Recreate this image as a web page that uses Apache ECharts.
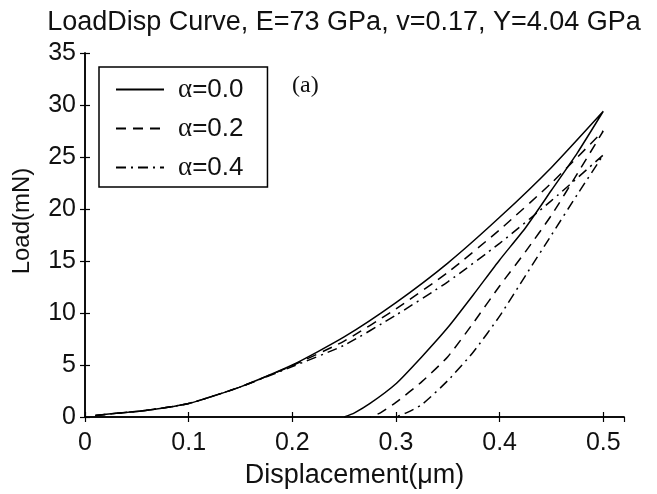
<!DOCTYPE html>
<html>
<head>
<meta charset="utf-8">
<script src="https://cdn.jsdelivr.net/npm/echarts@6/dist/echarts.min.js"></script>
<style>html,body{margin:0;padding:0;background:#fff}#c{width:657px;height:494px}</style>
</head>
<body>
<div id="c"></div>
<script>
// ---- data ----
const titleText = 'LoadDisp Curve, E=73 GPa, v=0.17, Y=4.04 GPa';
const xName = 'Displacement(μm)';
const yName = 'Load(mN)';
const seriesNames = ['α=0.0', 'α=0.2', 'α=0.4'];
const xTicks = [0, 0.1, 0.2, 0.3, 0.4, 0.5];
const yTicks = [0, 5, 10, 15, 20, 25, 30, 35];

// loading branch (shared displacement grid, µm)
const loadDisp = [0.01, 0.03, 0.06, 0.1, 0.15, 0.2, 0.25, 0.3, 0.35, 0.4, 0.45, 0.5];
const a00Load  = [0.15, 0.35, 0.65, 1.3, 2.9, 5.0, 7.7, 11.0, 14.8, 19.2, 24.0, 29.4];
const a02Load  = [0.15, 0.35, 0.65, 1.3, 2.9, 4.95, 7.3, 10.4, 13.9, 18.0, 22.5, 27.5];
const a04Load  = [0.15, 0.35, 0.65, 1.3, 2.9, 4.85, 6.9, 9.8, 13.0, 16.7, 20.8, 25.2];

// unloading branches
const a00UnDisp = [0.5, 0.475, 0.45, 0.425, 0.4, 0.375, 0.35, 0.325, 0.3, 0.275, 0.26, 0.25];
const a00Unload = [29.4, 25.4, 21.8, 18.2, 15.1, 11.8, 8.6, 5.8, 3.2, 1.3, 0.4, 0];
const a02UnDisp = [0.5, 0.475, 0.45, 0.425, 0.4, 0.375, 0.35, 0.325, 0.3, 0.285, 0.275];
const a02Unload = [27.5, 23.4, 19.4, 15.9, 12.6, 9.1, 5.8, 3.4, 1.4, 0.4, 0];
const a04UnDisp = [0.5, 0.475, 0.45, 0.425, 0.4, 0.375, 0.35, 0.325, 0.31, 0.3];
const a04Unload = [25.2, 21.4, 17.5, 13.6, 9.7, 6.3, 3.5, 1.2, 0.4, 0];

function pairs(xs, ys) { return xs.map((x, i) => [x, ys[i]]); }
const curves = [
  pairs(loadDisp, a00Load).concat(pairs(a00UnDisp, a00Unload)),
  pairs(loadDisp, a02Load).concat(pairs(a02UnDisp, a02Unload)),
  pairs(loadDisp, a04Load).concat(pairs(a04UnDisp, a04Unload))
];
const dashTypes = ['solid', [10, 7], [10, 5, 2, 5]];

const FONT = '"Liberation Sans", Arial, sans-serif';
const SERIF = '"Liberation Serif", "Times New Roman", serif';
const chart = echarts.init(document.getElementById('c'), null, {renderer: 'canvas'});
const axisCommon = {
  axisLine: {show: true, lineStyle: {color: '#000', width: 1.5}},
  axisTick: {show: true, inside: true, length: 5, lineStyle: {color: '#000', width: 1.2}},
  splitLine: {show: false}
};
chart.setOption({
  backgroundColor: '#fff',
  animation: false,
  title: {
    text: titleText, left: 339, textAlign: 'center', top: 4,
    textStyle: {fontFamily: FONT, fontSize: 27, fontWeight: 'normal', color: '#111'}
  },
  grid: {left: 85, top: 53, right: 33, bottom: 74},
  legend: {
    left: 99, top: 67, orient: 'vertical',
    data: seriesNames,
    itemWidth: 48, itemHeight: 14, itemGap: 12,
    padding: [9, 24, 6, 16],
    borderColor: '#000', borderWidth: 1.5, backgroundColor: '#fff',
    itemStyle: {opacity: 0},
    formatter: n => '{a|α}{b|' + n.slice(1) + '}',
    textStyle: {
      color: '#111',
      rich: {
        a: {fontFamily: SERIF, fontSize: 27, padding: [0, 0, 0, 9], color: '#111'},
        b: {fontFamily: FONT, fontSize: 26, color: '#111'}
      }
    }
  },
  graphic: [
    {
      type: 'text', left: 292, top: 74,
      style: {text: '(a)', font: '24px ' + SERIF, fill: '#111'}
    },
    {
      type: 'text', x: 22, y: 221, rotation: Math.PI / 2,
      style: {text: yName, font: '24px ' + FONT, fill: '#111', align: 'center', verticalAlign: 'middle'}
    }
  ],
  xAxis: [
    Object.assign({}, axisCommon, {
      type: 'value', min: 0, max: 0.52, interval: 0.1, position: 'bottom',
      name: xName, nameLocation: 'middle', nameGap: 45,
      nameTextStyle: {fontFamily: FONT, fontSize: 27, color: '#111'},
      axisLabel: {fontFamily: FONT, fontSize: 25, color: '#111', margin: 14, showMaxLabel: false,
                  formatter: v => (xTicks.includes(+v.toFixed(2)) ? String(+v.toFixed(2)) : '')}
    }),
    Object.assign({}, axisCommon, {
      type: 'value', min: 0, max: 0.52, interval: 0.1, position: 'top',
      axisLabel: {show: false}
    })
  ],
  yAxis: [
    Object.assign({}, axisCommon, {
      type: 'value', min: 0, max: 35, interval: 5, position: 'left',
      axisLabel: {fontFamily: FONT, fontSize: 25, color: '#111', margin: 9,
                  formatter: v => (yTicks.includes(v) ? String(v) : '')}
    }),
    Object.assign({}, axisCommon, {
      type: 'value', min: 0, max: 35, interval: 5, position: 'right',
      axisLabel: {show: false}
    })
  ],
  series: curves.map((d, i) => ({
    name: seriesNames[i], type: 'line', data: d, xAxisIndex: 0, yAxisIndex: 0,
    symbol: 'none', smooth: 0.2,
    lineStyle: {color: '#000', width: 1.5, type: dashTypes[i]},
    itemStyle: {color: '#000'}
  }))
});
</script>
</body>
</html>
